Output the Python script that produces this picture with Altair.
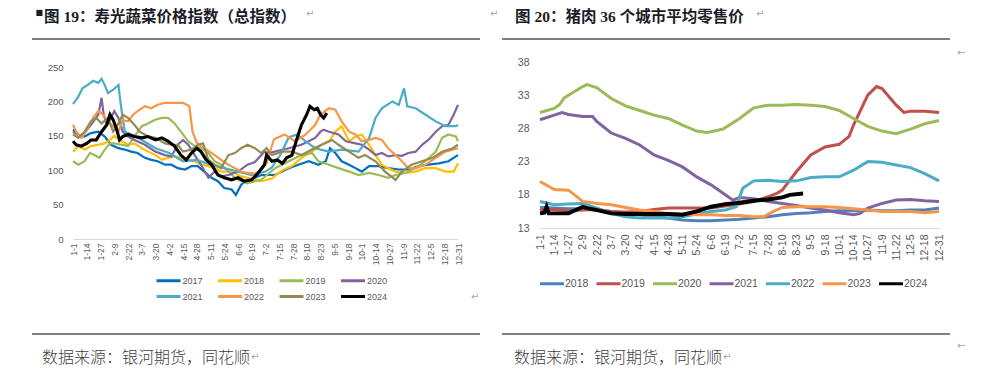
import altair as alt
import pandas as pd

# ---------------- data: 寿光蔬菜价格指数 (day-of-year, value) ----------------
L_NAMES = ["2017", "2018", "2019", "2020", "2021", "2022", "2023", "2024"]
L_COLORS = ["#0070C0", "#FFC000", "#9BBB59", "#8064A2", "#4BACC6", "#F79646", "#948A54", "#000000"]

L2017_d = [0,5,11,17,24,30,36,43,49,55,61,68,74,80,87,93,99,106,112,118,124,131,137,143,150,154,159,165,172,178,191,204,213,223,232,239,243,248,254,261,267,273,280,289,298,308,317,327,336,346,355,362,364]
L2017_v = [159,152,149,154,156,149,137,132,130,127,125,118,115,113,108,108,103,101,106,106,98,89,84,74,72,64,79,86,89,93,93,103,108,113,108,113,132,125,113,108,103,98,106,106,103,101,101,106,108,110,113,120,122]
L2018_d = [0,5,11,17,24,30,35,39,46,52,58,65,71,78,84,90,96,102,109,115,121,128,134,140,147,153,159,165,172,178,188,198,207,216,226,235,242,248,254,261,267,273,280,286,292,298,305,314,324,333,343,352,360,364]
L2018_v = [127,135,130,135,137,139,144,150,142,137,139,132,127,122,115,118,120,118,115,113,108,106,103,98,98,96,91,89,86,84,88,100,106,118,127,137,142,156,164,142,149,152,137,122,108,103,98,96,98,103,103,98,98,110]
L2019_d = [0,5,11,16,20,25,30,35,39,46,52,58,65,71,77,84,90,96,102,109,115,121,128,134,140,147,153,159,165,172,178,191,204,216,226,232,242,251,261,270,280,289,298,305,314,324,333,343,349,355,362,364]
L2019_v = [113,108,113,125,122,118,130,139,139,137,135,149,164,168,173,176,176,168,156,142,135,132,125,113,108,98,89,84,81,84,86,103,113,122,125,113,108,103,98,93,96,93,89,93,96,103,113,127,147,152,149,142]
L2020_d = [0,8,17,24,27,29,32,36,39,43,47,52,58,68,78,87,93,99,104,109,115,121,128,134,140,147,156,165,172,181,185,204,216,229,234,237,242,251,258,267,273,280,286,292,298,305,311,317,324,330,336,343,349,355,360,364]
L2020_v = [156,149,166,181,205,181,166,176,186,176,156,149,144,137,127,122,120,137,144,137,122,108,89,98,91,93,98,108,112,127,125,132,137,147,156,159,156,152,142,139,137,130,122,125,120,122,121,125,127,137,144,156,164,166,181,195]
L2021_d = [0,5,9,14,19,24,27,30,33,38,43,44,46,49,55,65,78,91,104,117,130,143,156,169,182,188,196,204,212,220,229,242,254,270,280,286,292,302,308,313,316,324,333,343,352,362,364]
L2021_v = [196,207,219,224,230,227,233,224,212,217,224,210,186,156,152,144,132,125,113,115,108,103,98,93,98,104,122,148,152,142,132,127,130,127,147,176,190,200,195,219,193,190,181,171,164,164,166]
L2022_d = [0,3,8,14,19,24,27,33,38,43,47,52,57,61,68,74,80,87,104,110,113,117,121,128,134,140,147,153,159,165,172,178,183,190,200,210,220,229,234,242,248,254,261,267,273,280,286,292,298,305,311,317,324,333,343,352,364]
L2022_v = [166,156,147,161,176,186,183,171,164,156,173,171,181,186,193,190,195,198,198,193,156,140,135,128,122,115,108,103,98,96,95,100,110,145,152,142,152,166,181,190,188,171,156,152,142,144,147,144,132,122,113,103,103,108,118,127,132]
L2023_d = [0,5,11,17,22,27,33,38,43,47,52,58,63,71,78,87,93,99,104,112,118,123,128,134,140,147,153,159,165,172,178,183,188,198,207,216,226,235,245,251,261,270,276,286,295,305,311,320,330,340,349,359,364]
L2023_v = [152,147,156,171,176,168,176,156,168,181,176,166,156,149,147,139,137,137,127,130,137,139,115,108,103,122,125,132,137,132,125,132,122,127,127,122,130,137,144,137,127,118,122,113,98,86,98,108,113,118,127,132,137]
L2024_d = [0,3,8,13,17,22,27,32,35,38,41,44,47,52,58,65,71,78,84,90,96,102,107,112,117,121,126,131,137,143,150,156,162,169,175,181,183,188,193,198,202,207,210,213,216,221,224,228,231,234,237,240]
L2024_v = [142,137,135,139,144,144,156,166,181,173,161,144,149,152,149,147,149,144,147,142,135,122,115,125,132,127,115,108,93,89,86,89,84,86,96,108,122,113,115,110,118,122,137,152,166,181,193,188,190,181,176,183]

# ---------------- data: 猪肉 36 个城市平均零售价 ----------------
R_NAMES = ["2018", "2019", "2020", "2021", "2022", "2023", "2024"]
R_COLORS = ["#4F81BD", "#C0504D", "#9BBB59", "#8064A2", "#4BACC6", "#F79646", "#000000"]

R2018_d = [0,13,26,39,52,65,78,91,104,117,130,143,156,169,182,195,208,221,234,247,260,273,286,299,312,325,338,351,364]
R2018_v = [16.1,16.0,15.9,15.9,15.7,15.5,15.2,15.0,14.7,14.5,14.2,14.1,14.1,14.2,14.3,14.5,14.7,15.0,15.2,15.3,15.5,15.6,15.6,15.7,15.6,15.6,15.7,15.7,16.0]
R2019_d = [0,13,26,39,52,65,78,91,104,117,130,143,156,169,182,195,208,217,221,234,247,260,273,282,286,299,307,312,325,332,338,351,364]
R2019_v = [15.8,15.8,15.6,15.7,15.8,15.5,15.4,15.5,15.8,16.0,16.0,16.0,16.0,16.3,16.6,17.0,17.7,18.3,18.7,21.5,24.0,25.2,25.6,26.8,28.5,33.0,34.3,34.0,31.5,30.4,30.6,30.6,30.4]
R2020_d = [0,13,18,22,26,39,43,52,65,78,91,104,117,130,143,152,156,167,182,195,208,221,234,247,260,273,286,299,312,325,338,351,364]
R2020_v = [30.4,31.0,31.6,32.6,33.0,34.3,34.6,34.1,32.5,31.4,30.7,30.0,29.5,28.5,27.6,27.4,27.5,27.9,29.5,31.1,31.5,31.5,31.6,31.5,31.3,30.7,29.5,28.3,27.6,27.2,27.9,28.7,29.2]
R2021_d = [0,13,20,26,39,48,52,65,78,91,104,117,130,143,156,169,176,182,195,208,221,234,247,260,273,286,292,299,312,325,338,351,364]
R2021_v = [29.3,30.0,30.4,30.1,29.8,29.8,29.0,27.3,26.5,25.5,24.0,23.2,22.2,20.7,19.5,18.0,17.2,17.6,17.4,17.0,16.7,16.4,16.0,15.7,15.3,15.0,15.2,16.0,16.7,17.2,17.3,17.1,17.0]
R2022_d = [0,13,26,39,52,65,78,91,104,117,130,143,156,169,179,185,195,208,221,234,247,260,273,286,299,312,325,338,351,364]
R2022_v = [17.0,16.5,16.6,16.7,16.0,15.2,14.7,14.5,14.5,14.5,14.7,15.1,15.5,15.7,16.2,19.0,20.1,20.2,20.0,20.1,20.6,20.7,20.7,21.7,23.0,22.9,22.5,22.1,21.2,20.1]
R2023_d = [0,13,26,39,52,65,78,91,104,117,130,143,156,169,182,195,204,213,221,234,247,260,273,286,299,312,325,338,351,364]
R2023_v = [20.0,18.8,18.7,17.0,16.7,16.5,16.1,15.7,15.5,15.2,15.1,15.0,15.0,14.9,14.9,14.7,14.7,15.5,16.1,16.2,16.2,16.2,16.1,15.9,15.7,15.5,15.5,15.5,15.3,15.5]
R2024_d = [0,4,6,8,13,26,39,43,52,65,78,91,104,117,130,143,156,169,182,195,208,221,228,240]
R2024_v = [15.2,15.3,16.2,15.2,15.2,15.2,16.2,16.0,15.7,15.2,15.1,15.1,15.1,15.1,15.0,15.5,16.2,16.6,16.8,17.1,17.3,17.6,18.0,18.2]

TICK_DAYS = [0,13,26,39,52,65,78,91,104,117,130,143,156,169,182,195,208,221,234,247,260,273,286,299,312,325,338,351,364]
L_YTICKS = [0, 50, 100, 150, 200, 250]
R_YTICKS = [13, 18, 23, 28, 33, 38]

TITLE_L = "图 19：寿光蔬菜价格指数（总指数）"
TITLE_R = "图 20：猪肉 36 个城市平均零售价"
SOURCE = "数据来源：银河期货，同花顺"


def long_df(names, days, vals):
    rows = []
    for n, ds, vs in zip(names, days, vals):
        for d, v in zip(ds, vs):
            rows.append({"series": n, "day": d, "value": v})
    return pd.DataFrame(rows)


left_df = long_df(L_NAMES,
                  [L2017_d, L2018_d, L2019_d, L2020_d, L2021_d, L2022_d, L2023_d, L2024_d],
                  [L2017_v, L2018_v, L2019_v, L2020_v, L2021_v, L2022_v, L2023_v, L2024_v])
right_df = long_df(R_NAMES,
                   [R2018_d, R2019_d, R2020_d, R2021_d, R2022_d, R2023_d, R2024_d],
                   [R2018_v, R2019_v, R2020_v, R2021_v, R2022_v, R2023_v, R2024_v])

CJK = "Noto Sans CJK SC"
TITLE_FONT = "Liberation Serif, Noto Sans CJK SC"
LAT = "Liberation Sans"
AXC = "#595959"
GRAY = "#A6A6A6"
LABEL_EXPR = "timeFormat(datetime(2023, 0, 1 + datum.value), '%-m-%-d')"
one = pd.DataFrame({"k": [0]})


def txt(s, x, y, size, color="#1c1c28", weight="normal", font=CJK, baseline="middle", align="left"):
    return alt.Chart(one).mark_text(text=s, font=font, fontSize=size, fontWeight=weight,
                                    color=color, baseline=baseline, align=align).encode(
        x=alt.value(x), y=alt.value(y))


def rule(x1, x2, y):
    return alt.Chart(one).mark_rule(color="#000000", strokeWidth=1.2).encode(
        x=alt.value(x1), x2=alt.value(x2), y=alt.value(y))


def anchor(x1, x2, y1, y2):
    return alt.Chart(one).mark_rect(fill="white", opacity=0).encode(
        x=alt.value(x1), x2=alt.value(x2), y=alt.value(y1), y2=alt.value(y2))


def panel(df, names, colors, ydom, yticks, fs_x, fs_y, fs_leg, sw, legx, legy, cols,
          loff, cpad, rpad, xpad, ypad):
    return alt.Chart(df).mark_line(interpolate="linear").encode(
        x=alt.X("day:Q", scale=alt.Scale(domain=[0, 364], nice=False, zero=False),
                axis=alt.Axis(values=TICK_DAYS, labelExpr=LABEL_EXPR, labelAngle=270,
                              labelFontSize=fs_x, labelFont=LAT, labelColor=AXC,
                              domainColor="#D9D9D9", ticks=False, grid=False,
                              labelPadding=xpad, labelFlush=False, labelOverlap=False, title=None)),
        y=alt.Y("value:Q", scale=alt.Scale(domain=ydom, nice=False, zero=False),
                axis=alt.Axis(values=yticks, domain=False, ticks=False, grid=False,
                              labelFontSize=fs_y, labelFont=LAT, labelColor=AXC,
                              labelPadding=ypad, title=None)),
        color=alt.Color("series:N", scale=alt.Scale(domain=names, range=colors),
                        legend=alt.Legend(orient="none", legendX=legx, legendY=legy,
                                          direction="horizontal", columns=cols, title=None,
                                          symbolType="M-2,0H2", symbolSize=144,
                                          symbolStrokeWidth=3, labelFontSize=fs_leg,
                                          labelFont=LAT, labelColor=AXC, labelOffset=loff,
                                          columnPadding=cpad, rowPadding=rpad, padding=0)),
        strokeWidth=alt.condition(alt.datum.series == "2024", alt.value(sw + 0.9), alt.value(sw)),
        order="day:Q",
    )


# both plot origins sit at page y = 62; left plot origin x = 73, right x = 540
left_lines = panel(left_df, L_NAMES, L_COLORS, [0, 257.3], L_YTICKS,
                   8.5, 9.5, 9, 2.2, 88, 211, 4, 6.5, 8.5, 2, 4, 10)
right_lines = panel(right_df, R_NAMES, R_COLORS, [13, 38], R_YTICKS,
                    10.5, 10.5, 10.5, 3.0, 4.5, 214, 7, 5.5, 1.5, 2, 6, 11)

left = alt.layer(
    anchor(-65, 427, -54, 317),
    left_lines,
    txt("■", -37.5, -49, 8, font="DejaVu Sans"),
    txt(TITLE_L, -29, -52, 15.5, weight="bold", font=TITLE_FONT, baseline="top"),
    txt("↵", 233, -48, 10, color=GRAY, font="DejaVu Sans"),
    txt("↵", 417, -48, 10, color=GRAY, font="DejaVu Sans"),
    txt("↵", 398, 235, 10, color=GRAY, font="DejaVu Sans"),
    rule(-41, 407, -23),
    rule(-41, 407, 272),
    txt(SOURCE, -31, 296, 16, color="#404040", weight=300),
    txt("↵", 178, 295, 10, color=GRAY, font="DejaVu Sans"),
).properties(width=385, height=177)

right = alt.layer(
    anchor(-40, 449, -54, 317),
    right_lines,
    txt(TITLE_R, -25, -52, 15.5, weight="bold", font=TITLE_FONT, baseline="top"),
    txt("↵", 216, -48, 10, color=GRAY, font="DejaVu Sans"),
    txt("←", 417, -9, 10, color=GRAY, font="DejaVu Sans"),
    rule(-38, 410, -23),
    rule(-38, 410, 272),
    txt(SOURCE, -26, 296, 16, color="#404040", weight=300),
    txt("↵", 183, 295, 10, color=GRAY, font="DejaVu Sans"),
    txt("←", 417, 284, 10, color=GRAY, font="DejaVu Sans"),
).properties(width=399, height=166)

chart = alt.hconcat(left, right, spacing=0, padding=0).resolve_scale(
    x="independent", y="independent", color="independent"
).configure_view(stroke=None)

chart.save("out.html", embed_options={"renderer": "svg", "actions": False})
